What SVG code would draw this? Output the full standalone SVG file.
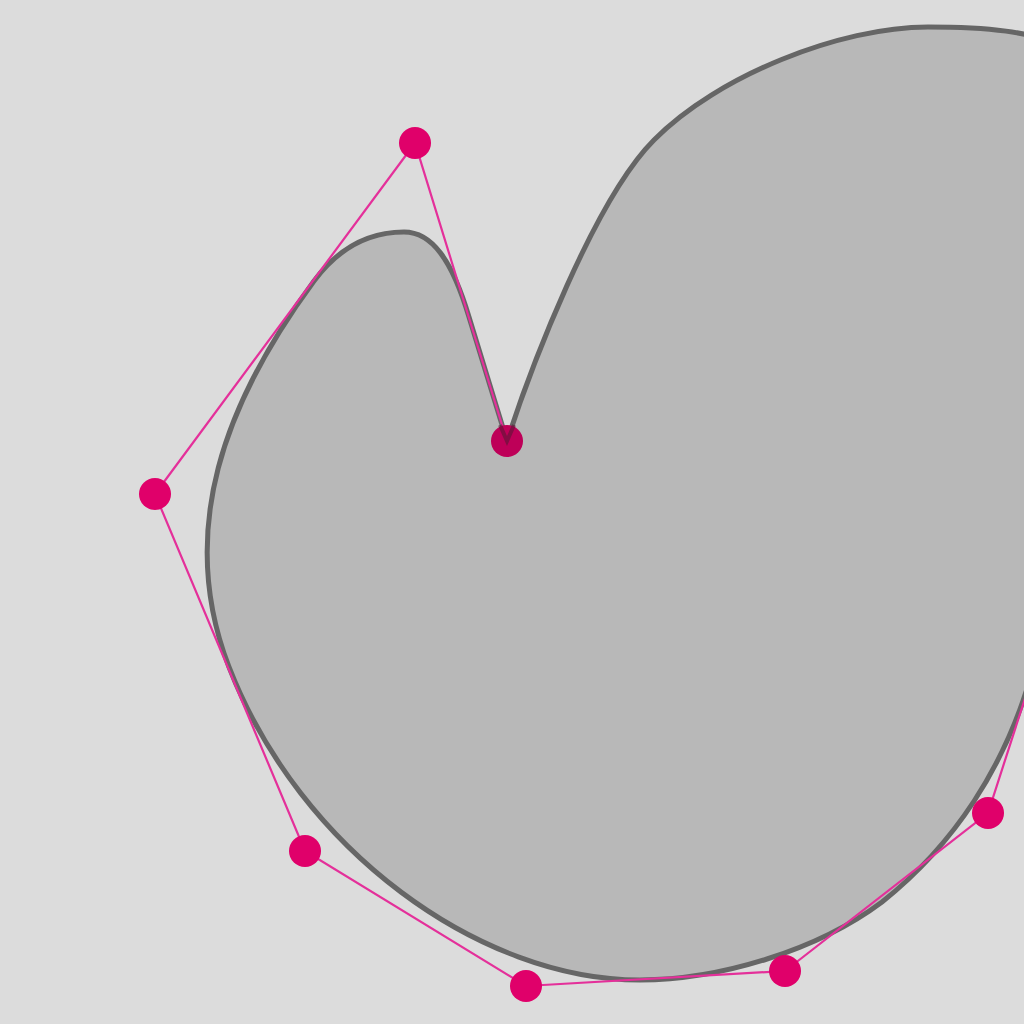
<svg xmlns="http://www.w3.org/2000/svg" width="1024" height="1024" viewBox="0 0 1024 1024">
<style>
.shape{fill:#b8b8b8;stroke:#666666;stroke-width:5;stroke-linejoin:round}
.poly{fill:none;stroke:#e4309a;stroke-width:2.2}
.pt{fill:#e0006a}
</style>
<rect width="1024" height="1024" fill="#dcdcdc"/>
<g id="shape">
<path class="shape" d="M507,441 C530,370 594,200 654,140 C717,76 840,27 928,27 C990,27 1030,32 1060,45 L1110,400 L1040,640 C1012,770 945,852 882,902 C818,950 720,980 640,980 C480,980 300,850 229,667 C176,530 225,402 314,281 C340,246 372,232 404,232 C432,232 452,260 469,317 L507,441 Z"/>
</g>
<g id="connectors">
<polyline class="poly" points="507,441 415,143 155,494 305,851 526,986 785,971 988,813 1060,590"/>
</g>
<g id="points">
<circle class="pt" cx="415" cy="143" r="16"/>
<circle class="pt" cx="155" cy="494" r="16"/>
<circle class="pt" cx="305" cy="851" r="16"/>
<circle class="pt" cx="526" cy="986" r="16"/>
<circle class="pt" cx="785" cy="971" r="16"/>
<circle class="pt" cx="988" cy="813" r="16"/>
<circle cx="507" cy="441" r="16" fill="#be0058"/>
<path d="M500,425 L507,441 L514,425" fill="none" stroke="#5a1535" stroke-width="4" opacity="0.6"/>
</g>
</svg>
